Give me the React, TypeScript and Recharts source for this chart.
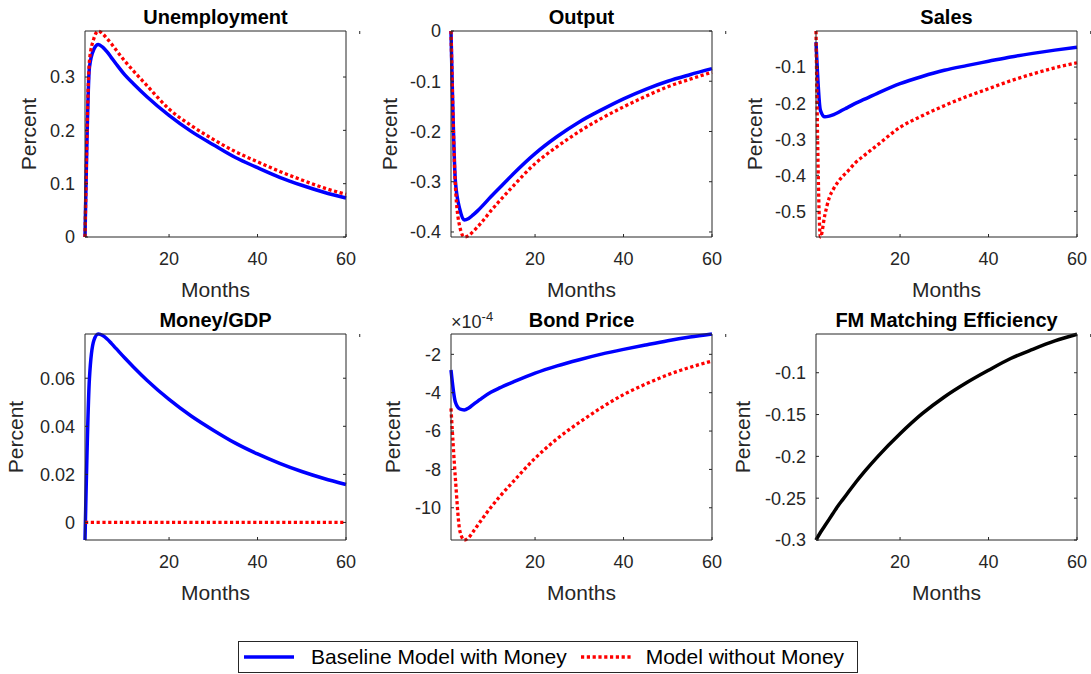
import { LineChart, Line, XAxis, YAxis } from 'recharts'

// impulse responses, months after the shock (monthly model, sampled)
const months = [1, 2, 3, 4, 5, 6, 7, 8, 10, 12, 15, 20, 25, 30, 35, 40, 45, 50, 55, 60]

const unemploymentBase = [0, 0.318, 0.352, 0.361, 0.356, 0.347, 0.336, 0.325, 0.304, 0.287, 0.263, 0.228, 0.198, 0.173, 0.149, 0.130, 0.112, 0.097, 0.084, 0.073]
const unemploymentNoMoney = [0, 0.330, 0.372, 0.386, 0.381, 0.372, 0.362, 0.351, 0.330, 0.311, 0.284, 0.240, 0.209, 0.183, 0.160, 0.141, 0.123, 0.107, 0.092, 0.080]

const outputBase = [0, -0.300, -0.355, -0.376, -0.373, -0.366, -0.358, -0.349, -0.330, -0.312, -0.285, -0.244, -0.210, -0.181, -0.157, -0.135, -0.116, -0.100, -0.087, -0.075]
const outputNoMoney = [0, -0.310, -0.390, -0.410, -0.407, -0.399, -0.390, -0.380, -0.358, -0.338, -0.309, -0.264, -0.230, -0.200, -0.174, -0.151, -0.130, -0.111, -0.096, -0.082]

const salesBase = [-0.031, -0.220, -0.238, -0.236, -0.232, -0.226, -0.219, -0.213, -0.200, -0.189, -0.172, -0.146, -0.126, -0.109, -0.096, -0.084, -0.072, -0.062, -0.053, -0.045]
const salesNoMoney = [0, -0.571, -0.510, -0.462, -0.437, -0.418, -0.403, -0.391, -0.364, -0.344, -0.315, -0.267, -0.235, -0.207, -0.182, -0.160, -0.138, -0.119, -0.102, -0.088]

const moneyGdpBase = [-0.0073, 0.0598, 0.0757, 0.0784, 0.0778, 0.0763, 0.0744, 0.0724, 0.0684, 0.0646, 0.0592, 0.0512, 0.0443, 0.0384, 0.0330, 0.0285, 0.0246, 0.0212, 0.0183, 0.0158]
const moneyGdpNoMoney = [0, 0, 0, 0, 0, 0, 0, 0, 0, 0, 0, 0, 0, 0, 0, 0, 0, 0, 0, 0]

// bond price in units of 1e-4
const bondBase = [-2.82, -4.50, -4.85, -4.90, -4.80, -4.62, -4.45, -4.28, -3.98, -3.75, -3.45, -2.98, -2.60, -2.28, -1.99, -1.74, -1.51, -1.29, -1.10, -0.94]
const bondNoMoney = [-4.82, -8.50, -11.20, -11.68, -11.55, -11.25, -10.92, -10.60, -9.98, -9.42, -8.65, -7.42, -6.40, -5.55, -4.78, -4.10, -3.55, -3.07, -2.68, -2.35]

const fmEfficiency = [-0.300, -0.291, -0.283, -0.275, -0.267, -0.259, -0.252, -0.245, -0.231, -0.218, -0.200, -0.173, -0.149, -0.129, -0.112, -0.097, -0.083, -0.072, -0.062, -0.054]

const monthTicks = [20, 40, 60]
const legendLabels = ['Baseline Model with Money', 'Model without Money']

const FONT = '"Liberation Sans", Arial, Helvetica, sans-serif'
const AXIS_COLOR = '#262626'
const BLUE = '#0000ff'
const RED = '#ff0000'

// plot box size and the room around it inside each chart
const BOX_W = 261
const BOX_H = 206
const Y_AXIS_W = 90
const TOP_M = 40
const RIGHT_M = 25
const X_AXIS_H = 70
// the mirrored top/right axes need a non-zero size to be drawn
const MIRROR = 1

type PanelSpec = {
  title: string
  left: number
  top: number
  domain: [number, number]
  ticks: number[]
  base: number[]
  noMoney?: number[]
  baseColor: string
  labelGap: number
}

const panels: PanelSpec[] = [
  { title: 'Unemployment', left: 85, top: 30.7, domain: [0, 0.3863], ticks: [0, 0.1, 0.2, 0.3], base: unemploymentBase, noMoney: unemploymentNoMoney, baseColor: BLUE, labelGap: 56 },
  { title: 'Output', left: 450.5, top: 30.7, domain: [-0.41, 0], ticks: [-0.4, -0.3, -0.2, -0.1, 0], base: outputBase, noMoney: outputNoMoney, baseColor: BLUE, labelGap: 61 },
  { title: 'Sales', left: 815.5, top: 30.7, domain: [-0.571, 0], ticks: [-0.5, -0.4, -0.3, -0.2, -0.1], base: salesBase, noMoney: salesNoMoney, baseColor: BLUE, labelGap: 61 },
  { title: 'Money/GDP', left: 85, top: 333.5, domain: [-0.0073, 0.0784], ticks: [0, 0.02, 0.04, 0.06], base: moneyGdpBase, noMoney: moneyGdpNoMoney, baseColor: BLUE, labelGap: 69 },
  { title: 'Bond Price', left: 450.5, top: 333.5, domain: [-11.68, -0.94], ticks: [-10, -8, -6, -4, -2], base: bondBase, noMoney: bondNoMoney, baseColor: BLUE, labelGap: 58 },
  { title: 'FM Matching Efficiency', left: 815.5, top: 333.5, domain: [-0.3, -0.0537], ticks: [-0.3, -0.25, -0.2, -0.15, -0.1], base: fmEfficiency, baseColor: '#000000', labelGap: 73 },
]

const tickStyle = { fontSize: 18, fill: AXIS_COLOR, fontFamily: FONT }
const blank = () => ''

function Panel({ p }: { p: PanelSpec }) {
  const data = months.map((m, i) => ({
    month: m,
    base: p.base[i],
    noMoney: p.noMoney ? p.noMoney[i] : null,
  }))

  return (
    <div style={{ position: 'absolute', left: p.left - Y_AXIS_W, top: p.top - TOP_M - MIRROR }}>
      <LineChart
        width={Y_AXIS_W + BOX_W + MIRROR + RIGHT_M}
        height={TOP_M + MIRROR + BOX_H + X_AXIS_H}
        data={data}
        margin={{ top: TOP_M, right: RIGHT_M, bottom: 0, left: 0 }}
      >
        <XAxis
          dataKey="month"
          type="number"
          domain={[1, 60]}
          ticks={monthTicks}
          interval={0}
          height={X_AXIS_H}
          tickSize={-3}
          tickMargin={18}
          tick={tickStyle}
          stroke={AXIS_COLOR}
          label={{ value: 'Months', position: 'insideBottom', offset: 10, style: { fontSize: 21, fill: AXIS_COLOR, fontFamily: FONT } }}
        />
        <XAxis
          xAxisId="top"
          orientation="top"
          type="number"
          domain={[1, 60]}
          allowDataOverflow
          ticks={monthTicks}
          interval={0}
          height={MIRROR}
          tickSize={-3}
          tickFormatter={blank}
          stroke={AXIS_COLOR}
          label={{ value: p.title, position: 'top', offset: 6, style: { fontSize: 20, fontWeight: 'bold', fill: '#000', fontFamily: FONT } }}
        />
        <YAxis
          type="number"
          domain={p.domain}
          ticks={p.ticks}
          interval={0}
          width={Y_AXIS_W}
          tickSize={-3}
          tickMargin={13}
          tick={tickStyle}
          stroke={AXIS_COLOR}
          label={{ value: 'Percent', angle: -90, position: 'insideLeft', offset: Y_AXIS_W - p.labelGap, style: { textAnchor: 'middle', fontSize: 21, fill: AXIS_COLOR, fontFamily: FONT } }}
        />
        <YAxis
          yAxisId="right"
          orientation="right"
          type="number"
          domain={p.domain}
          allowDataOverflow
          ticks={p.ticks}
          interval={0}
          width={MIRROR}
          tickSize={-3}
          tickFormatter={blank}
          stroke={AXIS_COLOR}
        />
        <Line
          type="monotone"
          dataKey="base"
          stroke={p.baseColor}
          strokeWidth={3.5}
          dot={false}
          isAnimationActive={false}
        />
        {p.noMoney && (
          <Line
            type="monotone"
            dataKey="noMoney"
            stroke={RED}
            strokeWidth={3.3}
            strokeDasharray="3.2 2.6"
            dot={false}
            isAnimationActive={false}
          />
        )}
      </LineChart>
    </div>
  )
}

function LegendBox() {
  return (
    <div
      style={{
        position: 'absolute',
        left: 238,
        top: 641,
        width: 620,
        height: 32,
        border: `1px solid ${AXIS_COLOR}`,
        background: '#fff',
        boxSizing: 'border-box',
        display: 'flex',
        alignItems: 'center',
        fontSize: 21,
        color: '#000',
        whiteSpace: 'nowrap',
      }}
    >
      <svg width={50} height={6} style={{ marginLeft: 5 }}>
        <line x1={0} y1={3} x2={50} y2={3} stroke={BLUE} strokeWidth={3.5} />
      </svg>
      <span style={{ marginLeft: 17 }}>{legendLabels[0]}</span>
      <svg width={52} height={6} style={{ marginLeft: 14 }}>
        <line x1={0} y1={3} x2={52} y2={3} stroke={RED} strokeWidth={3.3} strokeDasharray="3.2 2.6" />
      </svg>
      <span style={{ marginLeft: 13 }}>{legendLabels[1]}</span>
    </div>
  )
}

export default function App() {
  return (
    <div
      style={{
        position: 'absolute',
        left: 0,
        top: 0,
        width: 1091,
        height: 674,
        background: '#fff',
        fontFamily: FONT,
        overflow: 'hidden',
      }}
    >
      {panels.map((p) => (
        <Panel key={p.title} p={p} />
      ))}
      <div style={{ position: 'absolute', left: 451, top: 312, fontSize: 18, lineHeight: '20px', color: AXIS_COLOR }}>
        ×10<span style={{ fontSize: 13, position: 'relative', top: -7 }}>-4</span>
      </div>
      <LegendBox />
    </div>
  )
}
